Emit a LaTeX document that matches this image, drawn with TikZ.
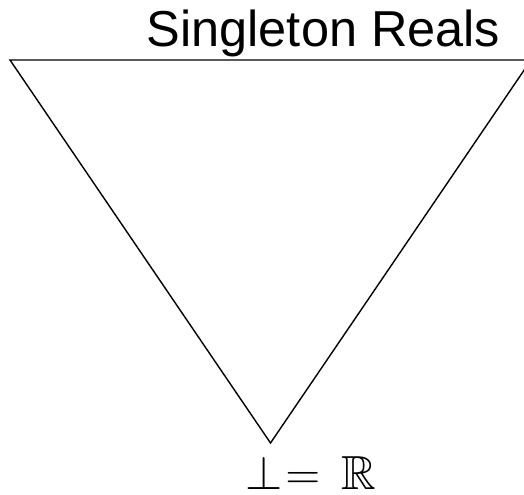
\documentclass[tikz,border=0pt]{standalone}
\usepackage{amssymb}
\usepackage{fontspec}
\setmainfont{Liberation Sans}
\begin{document}
\begin{tikzpicture}[x=1bp,y=-1bp,line width=1.4bp]
  \useasboundingbox (0,0) rectangle (524,495);
  \coordinate (tl) at (10,60); \coordinate (tr) at (531,60);
  \coordinate (bot) at (270.5,443);
  \draw (tl)--(tr)--(bot)--cycle;
  \node[inner sep=0,anchor=base] (title) at (323.5,47)
    {\fontsize{50.5bp}{60bp}\selectfont Singleton Reals};
  \node[inner sep=0,anchor=base west,scale=1.93] (bottom) at ([xshift=-26bp]bot |- 0,489.5)
    {\fontsize{24.88pt}{30pt}\selectfont $\bot\mskip1mu{=}\mskip8mu\mathbb{R}$};
\end{tikzpicture}
\end{document}
